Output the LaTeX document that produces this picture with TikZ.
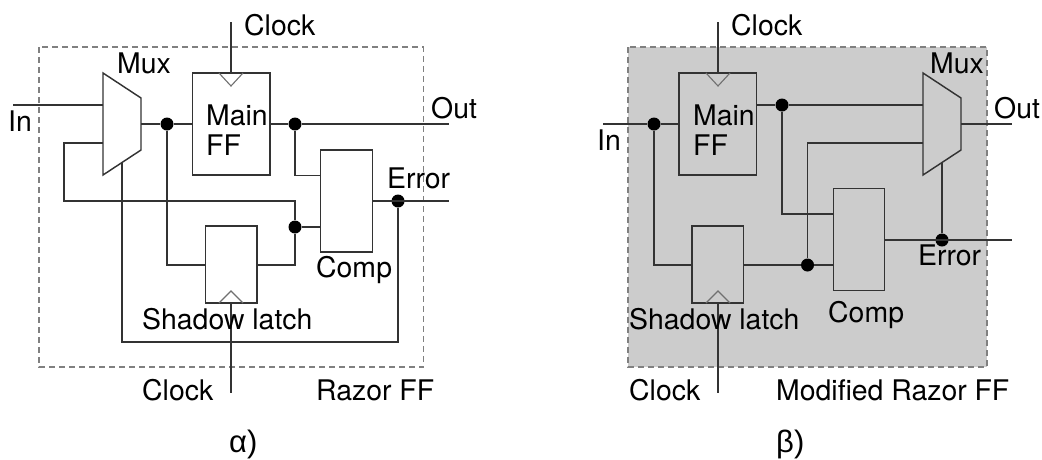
\documentclass[tikz,border=0pt]{standalone}
\usepackage{fontspec}
\setmainfont{TeX Gyre Heros}
\newfontfamily\capfont{Liberation Sans}
\usetikzlibrary{calc}
\definecolor{linec}{HTML}{333333}
\definecolor{dashc}{HTML}{808080}
\definecolor{tric}{HTML}{707070}
\definecolor{shadec}{HTML}{CCCCCC}
\tikzset{
  wire/.style={draw=linec,line width=1.45pt,line join=miter},
  block/.style={draw=linec,line width=1.45pt,inner sep=0pt,rectangle},
  ffblock/.style={block,minimum width=77.5pt,minimum height=102pt},
  smallblock/.style={block,minimum width=51.5pt},
  jdot/.style={circle,fill=black,inner sep=0pt,minimum size=13pt},
  lbl/.style={anchor=base west,inner sep=0pt,font=\fontsize{28.4}{30}\selectfont,text=black},
  caplbl/.style={anchor=base west,inner sep=0pt,font=\capfont\fontsize{31}{33}\selectfont,text=black},
  clkmark/.style={draw=tric,line width=1.1pt,fill=none},
  frameline/.style={draw=dashc,line width=1.2pt,dash pattern=on 6pt off 4pt},
}
\begin{document}
\begin{tikzpicture}[x=1pt,y=-1pt]
\useasboundingbox (0,0) rectangle (1042,459);

% ---------- left figure ----------
\path[frameline] (39,47) rectangle (423.5,367);
\node[ffblock] (aff) at (231.25,124) {};
\node[smallblock,minimum height=102pt] (acomp) at (346.5,201) {};
\node[smallblock,minimum height=77pt] (alatch) at (231.25,264.5) {};
\draw[wire] (103,73) -- (141,98) -- (141,150) -- (103,175) -- cycle;
\coordinate (amuxi1) at (103,105);
\coordinate (amuxi2) at (103,143);
\coordinate (amuxo) at (141,124);
\coordinate (amuxs) at (122,163);
\coordinate (ain) at (13,105);
\coordinate (aout) at (449,124);
\coordinate (aerr) at (449,201);
\coordinate (aclk1) at (231,22);
\coordinate (aclk2) at (231,393);
\node[jdot] (ad1) at (167,124) {};
\node[jdot] (ad2) at (295,124) {};
\node[jdot] (ad3) at (295,227) {};
\node[jdot] (ad4) at (398,201) {};
\draw[clkmark] (219,73) -- (231,86) -- (243,73);
\draw[clkmark] (219,303) -- (231,291) -- (243,303);
\draw[wire] (ain) -- (amuxi1);
\draw[wire] (amuxo) -- (ad1) -- (aff.west |- amuxo);
\draw[wire] (aff.east |- ad2) -- (ad2) -- (aout);
\draw[wire] (ad2) |- (acomp.west |- 0,175.5);
\draw[wire] (amuxi2) -- (64,143) -- (64,201) -- (295,201) -- (ad3);
\draw[wire] (ad3) -- (acomp.west |- ad3);
\draw[wire] (ad1) |- (alatch.west |- 0,265);
\draw[wire] (alatch.east |- 0,265) -| (ad3);
\draw[wire] (acomp.east |- aerr) -- (aerr);
\draw[wire] (ad4) |- (122,342) -- (amuxs);
\draw[wire] (aclk1) -- (231,73);
\draw[wire] (231,303) -- (aclk2);
\node[lbl] (t1) at (117,73) {Mux};
\node[lbl] (t2) at (8,131) {In};
\node[lbl] (t3) at (206,125) {Main};
\node[lbl] (t4) at (206,155.5) {FF};
\node[lbl] (t5) at (431,118) {Out};
\node[lbl] (t6) at (387,188) {Error};
\node[lbl] (t7) at (316,277) {Comp};
\node[lbl] (t8) at (142,329) {Shadow latch};
\node[lbl] (t9) at (142,400) {Clock};
\node[lbl] (t10) at (244,35) {Clock};
\node[lbl] (t11) at (316,400) {Razor FF};
\node[caplbl] (t12) at (229,452) {α)};

% ---------- right figure ----------
\path[frameline,fill=shadec] (628,47) rectangle (987,367);
\node[ffblock] (bff) at (717.75,124) {};
\node[smallblock,minimum height=102pt] (bcomp) at (859,239.5) {};
\node[smallblock,minimum height=77pt] (blatch) at (717.75,264.5) {};
\draw[wire] (923,73) -- (961,98) -- (961,150) -- (923,175) -- cycle;
\coordinate (bmuxi1) at (923,105);
\coordinate (bmuxi2) at (923,143);
\coordinate (bmuxo) at (961,124);
\coordinate (bmuxs) at (942,163);
\coordinate (bin) at (603,124);
\coordinate (bout) at (1012,124);
\coordinate (berr) at (1012,240);
\coordinate (bclk1) at (718,22);
\coordinate (bclk2) at (718,393);
\node[jdot] (bd1) at (654,124) {};
\node[jdot] (bd2) at (782,105) {};
\node[jdot] (bd3) at (807.5,265) {};
\node[jdot] (bd4) at (942,240) {};
\draw[clkmark] (706,73) -- (718,86) -- (730,73);
\draw[clkmark] (706,303) -- (718,291) -- (730,303);
\draw[wire] (bin) -- (bd1) -- (bff.west |- bd1);
\draw[wire] (bff.east |- bd2) -- (bd2) -- (bmuxi1);
\draw[wire] (bd2) |- (bcomp.west |- 0,214);
\draw[wire] (bmuxi2) -| (bd3);
\draw[wire] (bd1) |- (blatch.west |- 0,265);
\draw[wire] (blatch.east |- bd3) -- (bd3) -- (bcomp.west |- bd3);
\draw[wire] (bmuxo) -- (bout);
\draw[wire] (bcomp.east |- berr) -- (berr);
\draw[wire] (bd4) -- (bmuxs);
\draw[wire] (bclk1) -- (718,73);
\draw[wire] (718,303) -- (bclk2);
\node[lbl] (u1) at (930,73) {Mux};
\node[lbl] (u2) at (597,150) {In};
\node[lbl] (u3) at (693,125) {Main};
\node[lbl] (u4) at (693,155.5) {FF};
\node[lbl] (u5) at (994,118) {Out};
\node[lbl] (u6) at (918,265) {Error};
\node[lbl] (u7) at (828,322) {Comp};
\node[lbl] (u8) at (629,329) {Shadow latch};
\node[lbl] (u9) at (629,400) {Clock};
\node[lbl] (u10) at (731,35) {Clock};
\node[lbl] (u11) at (776,400) {Modified Razor FF};
\node[caplbl] (u12) at (776,452) {β)};
\end{tikzpicture}
\end{document}
